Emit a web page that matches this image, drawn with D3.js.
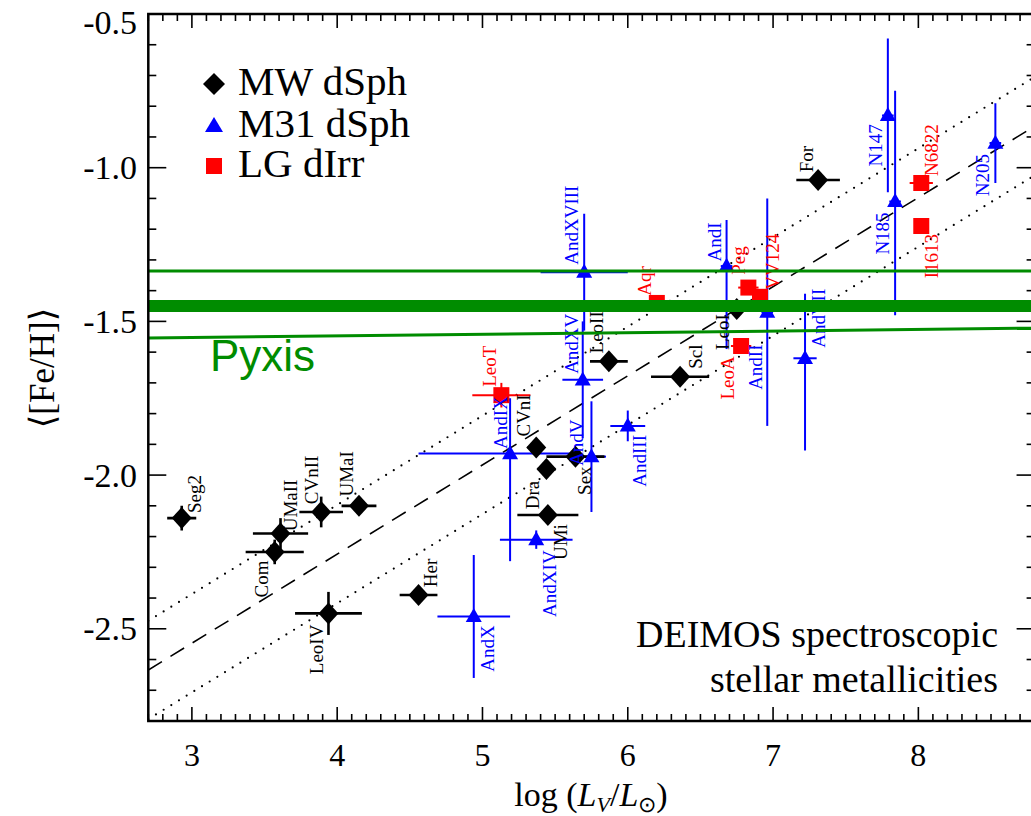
<!DOCTYPE html>
<html>
<head>
<meta charset="utf-8">
<script src="https://cdn.jsdelivr.net/npm/d3@7"></script>
<style>
  html, body { margin: 0; padding: 0; background: #fff; }
  svg { display: block; }
</style>
</head>
<body>
<svg id="chart" width="1031" height="816"></svg>
<script>
// ---- data ----
// Milky Way dSph
const mwNames   = ["Seg2", "UMaII", "Com", "CVnII", "UMaI", "LeoIV", "Her", "CVnI", "Dra", "UMi", "Sex", "LeoII", "Scl", "LeoI", "For"];
const mwLogL    = [2.93, 3.61, 3.57, 3.89, 4.15, 3.94, 4.56, 5.37, 5.44, 5.45, 5.64, 5.87, 6.36, 6.75, 7.31];
const mwFeH     = [-2.14, -2.19, -2.25, -2.12, -2.10, -2.45, -2.39, -1.91, -1.98, -2.13, -1.94, -1.63, -1.68, -1.46, -1.04];
const mwLogLErr = [0.10, 0.19, 0.20, 0.15, 0.12, 0.23, 0.13, 0.06, 0.06, 0.21, 0.20, 0.13, 0.20, 0.10, 0.15];
const mwFeHErr  = [0.04, 0.05, 0.04, 0.05, 0.02, 0.07, 0.02, 0.02, 0.02, 0.02, 0.02, 0.02, 0.01, 0.01, 0.01];

// M31 dSph (errors as [minus, plus])
const m31Names   = ["AndX", "AndXIV", "AndIX", "AndXVIII", "AndXV", "AndV", "AndIII", "AndI", "AndII", "AndVII", "N147", "N185", "N205"];
const m31LogL    = [4.94, 5.37, 5.19, 5.70, 5.69, 5.75, 6.00, 6.68, 6.96, 7.22, 7.79, 7.84, 8.53];
const m31FeH     = [-2.46, -2.21, -1.93, -1.34, -1.69, -1.94, -1.84, -1.32, -1.47, -1.62, -0.83, -1.11, -0.92];
const m31LogLErr = [[0.25, 0.25], [0.25, 0.25], [0.63, 0.42], [0.30, 0.30], [0.14, 0.14], [0.10, 0.10], [0.12, 0.12],
                    [0.04, 0.04], [0.04, 0.04], [0.08, 0.08], [0.04, 0.04], [0.04, 0.04], [0.04, 0.04]];
const m31FeHErr  = [[0.20, 0.20], [0.03, 0.03], [0.35, 0.18], [0.19, 0.19], [0.19, 0.19], [0.18, 0.18], [0.05, 0.05],
                    [0.27, 0.15], [0.37, 0.37], [0.30, 0.21], [0.25, 0.25], [0.37, 0.36], [0.13, 0.13]];

// Local Group dIrr
const dirrNames   = ["LeoT", "Aqr", "LeoA", "Peg", "VV124", "I1613", "N6822"];
const dirrLogL    = [5.13, 6.20, 6.78, 6.83, 6.91, 8.02, 8.02];
const dirrFeH     = [-1.74, -1.44, -1.58, -1.39, -1.42, -1.19, -1.05];
const dirrLogLErr = [0.20, 0.03, 0.07, 0.07, 0.03, 0.05, 0.08];
const dirrFeHErr  = [0.04, 0.01, 0.01, 0.01, 0.01, 0.01, 0.01];

// luminosity-metallicity relation and its rms band (end points at the axis limits)
const fitLogL  = [2.7, 8.8];
const fitMid   = [-2.634, -0.865];
const fitUpper = [-2.474, -0.705];
const fitLower = [-2.794, -1.025];

// Pyxis metallicity and its range
const pyxisLogL  = [2.7, 8.8];
const pyxisMean  = [-1.45, -1.45];
const pyxisHigh  = [-1.336, -1.336];
const pyxisLow   = [-1.554, -1.522];

const xTicks = [3, 4, 5, 6, 7, 8];
const yTicks = [-0.5, -1.0, -1.5, -2.0, -2.5];

// label offsets in px from the point (label centre), labels are vertical
const labelOff = {
  Seg2: [13, -24], UMaII: [10, -28], Com: [-13, 27], CVnII: [-10, -32], UMaI: [-12, -32], LeoIV: [-12, 36],
  Her: [12, -22], CVnI: [-13, -32], Dra: [-14, 26], UMi: [13, 27], Sex: [9, 24], LeoII: [-12, -29],
  Scl: [15, -20], LeoI: [-14, 23], For: [-12, -21],
  AndX: [14, 32], AndXIV: [13, 44], AndIX: [-10, -31], AndXVIII: [-13, -47], AndXV: [-11, -36], AndV: [-15, -14],
  AndIII: [12, 35], AndI: [-12, -24], AndII: [-12, 55], AndVII: [13, -40], N147: [-12, 30], N185: [-13, 32], N205: [-13, 32],
  LeoT: [-12, -29], Aqr: [-12, -22], LeoA: [-14, 32], Peg: [-10, -27], VV124: [13, -35], I1613: [10, 30], N6822: [10, -33]
};

// ---- layout ----
const SERIF = "'Liberation Serif', 'Times New Roman', Times, serif";
const svg = d3.select("#chart");
const plotL = 148.3, plotR = 1034.6, plotT = 14, plotB = 721;
const x = d3.scaleLinear().domain([2.7, 8.8]).range([plotL, plotR]);
const y = d3.scaleLinear().domain([-2.8, -0.5]).range([plotB, plotT]);
const GREEN = "#008c00";

svg.append("clipPath").attr("id", "plotclip")
  .append("rect").attr("x", plotL).attr("y", plotT).attr("width", plotR - plotL).attr("height", plotB - plotT);

const plot = svg.append("g").attr("clip-path", "url(#plotclip)");

// fit lines
function segment(xs, ys) {
  return d3.line().x(d => x(d[0])).y(d => y(d[1]))(xs.map((v, i) => [v, ys[i]]));
}
plot.append("path").attr("d", segment(fitLogL, fitMid))
  .attr("stroke", "#000").attr("stroke-width", 1.6).attr("fill", "none").attr("stroke-dasharray", "16,10");
[fitUpper, fitLower].forEach(f => {
  plot.append("path").attr("d", segment(fitLogL, f))
    .attr("stroke", "#000").attr("stroke-width", 2.2).attr("fill", "none")
    .attr("stroke-linecap", "round").attr("stroke-dasharray", "0,9");
});

// error bars
function errorBars(g, xs, ys, xe, ye, color, width) {
  xs.forEach((v, i) => {
    const ex = Array.isArray(xe[i]) ? xe[i] : [xe[i], xe[i]];
    const ey = Array.isArray(ye[i]) ? ye[i] : [ye[i], ye[i]];
    g.append("line").attr("x1", x(v - ex[0])).attr("x2", x(v + ex[1]))
      .attr("y1", y(ys[i])).attr("y2", y(ys[i])).attr("stroke", color).attr("stroke-width", width);
    g.append("line").attr("x1", x(v)).attr("x2", x(v))
      .attr("y1", y(ys[i] - ey[0])).attr("y2", y(ys[i] + ey[1])).attr("stroke", color).attr("stroke-width", width);
  });
}
errorBars(plot, m31LogL, m31FeH, m31LogLErr, m31FeHErr, "#0000ff", 2);
errorBars(plot, dirrLogL, dirrFeH, dirrLogLErr, dirrFeHErr, "#ff0000", 2);
errorBars(plot, mwLogL, mwFeH, mwLogLErr, mwFeHErr, "#000", 2.6);

// marker shapes
const diamond = (w, h) => `M0,${-h / 2}L${w / 2},0L0,${h / 2}L${-w / 2},0Z`;
const triangle = (w, h) => `M0,${-h * 0.6}L${w / 2},${h * 0.4}L${-w / 2},${h * 0.4}Z`;
const square = s => `M${-s / 2},${-s / 2}h${s}v${s}h${-s}Z`;

function markers(xs, ys, path, color) {
  plot.append("g").selectAll("path").data(xs).join("path")
    .attr("transform", (d, i) => `translate(${x(d)},${y(ys[i])})`)
    .attr("d", path).attr("fill", color);
}
markers(m31LogL, m31FeH, triangle(16, 14), "#0000ff");
markers(dirrLogL, dirrFeH, square(16), "#ff0000");
markers(mwLogL, mwFeH, diamond(20, 22), "#000");

// vertical labels
function labels(names, xs, ys, color) {
  plot.append("g").selectAll("text").data(names).join("text")
    .attr("transform", (d, i) => {
      const o = labelOff[d] || [0, 0];
      return `translate(${x(xs[i]) + o[0]},${y(ys[i]) + o[1]}) rotate(-90)`;
    })
    .attr("text-anchor", "middle").attr("dominant-baseline", "central")
    .attr("font-family", SERIF).attr("font-size", 19).attr("fill", color).text(d => d);
}
labels(mwNames, mwLogL, mwFeH, "#000");
labels(m31Names, m31LogL, m31FeH, "#0000ff");
labels(dirrNames, dirrLogL, dirrFeH, "#ff0000");

// Pyxis lines (drawn on top)
const pyx = svg.append("g");
pyx.append("path").attr("d", segment(pyxisLogL, pyxisMean)).attr("stroke", GREEN).attr("stroke-width", 12).attr("fill", "none");
[pyxisHigh, pyxisLow].forEach(p => {
  pyx.append("path").attr("d", segment(pyxisLogL, p)).attr("stroke", GREEN).attr("stroke-width", 3).attr("fill", "none");
});
svg.append("text").attr("x", 210).attr("y", 371)
  .attr("font-family", "'Liberation Sans', Arial, sans-serif").attr("font-size", 44)
  .attr("fill", GREEN).text("Pyxis");

// frame and ticks
svg.append("rect").attr("x", plotL).attr("y", plotT).attr("width", plotR - plotL).attr("height", plotB - plotT)
  .attr("fill", "none").attr("stroke", "#000").attr("stroke-width", 2.5);

const ticks = svg.append("g").attr("stroke", "#000").attr("stroke-width", 1.6);
d3.range(27, 89).map(v => v / 10).forEach(v => {
  const major = Math.abs(v - Math.round(v)) < 1e-6;
  const len = major ? 14 : 7;
  ticks.append("line").attr("x1", x(v)).attr("x2", x(v)).attr("y1", plotB).attr("y2", plotB - len);
  ticks.append("line").attr("x1", x(v)).attr("x2", x(v)).attr("y1", plotT).attr("y2", plotT + len);
});
d3.range(-28, -4).map(v => v / 10).forEach(v => {
  const major = Math.abs(v * 2 - Math.round(v * 2)) < 1e-6;
  const len = major ? 18 : 8;
  ticks.append("line").attr("x1", plotL).attr("x2", plotL + len).attr("y1", y(v)).attr("y2", y(v));
  ticks.append("line").attr("x1", plotR).attr("x2", plotR - len).attr("y1", y(v)).attr("y2", y(v));
});

// tick labels
svg.append("g").selectAll("text").data(xTicks).join("text")
  .attr("x", d => x(d)).attr("y", 766).attr("text-anchor", "middle")
  .attr("font-family", SERIF).attr("font-size", 32).text(d => d);
svg.append("g").selectAll("text").data(yTicks).join("text")
  .attr("x", 137).attr("y", d => Math.max(y(d), 22)).attr("text-anchor", "end").attr("dominant-baseline", "central")
  .attr("font-family", SERIF).attr("font-size", 34).text(d => d.toFixed(1));

// axis titles
const yt = svg.append("text").attr("transform", "translate(42,368) rotate(-90)")
  .attr("text-anchor", "middle").attr("dominant-baseline", "central")
  .attr("font-family", SERIF).attr("font-size", 35);
yt.append("tspan").attr("font-family", "'DejaVu Serif', serif").attr("font-weight", 200).text("\u27E8");
yt.append("tspan").text("[Fe/H]");
yt.append("tspan").attr("font-family", "'DejaVu Serif', serif").attr("font-weight", 200).text("\u27E9");

const xt = svg.append("text").attr("x", 591).attr("y", 806).attr("text-anchor", "middle")
  .attr("font-family", SERIF).attr("font-size", 34);
xt.append("tspan").text("log (");
xt.append("tspan").attr("font-style", "italic").text("L");
xt.append("tspan").attr("font-style", "italic").attr("font-size", 22).attr("dy", 6).text("V");
xt.append("tspan").attr("dy", -6).text("/");
xt.append("tspan").attr("font-style", "italic").text("L");
xt.append("tspan").attr("font-size", 22).attr("dy", 6).text("\u2299");
xt.append("tspan").attr("dy", -6).text(")");

// legend
const legend = svg.append("g");
const legendItems = [
  { label: "MW dSph", path: diamond(22, 22), color: "#000", yb: 95 },
  { label: "M31 dSph", path: triangle(18, 15), color: "#0000ff", yb: 137 },
  { label: "LG dIrr", path: square(16), color: "#ff0000", yb: 177 }
];
legendItems.forEach(it => {
  legend.append("path").attr("d", it.path).attr("fill", it.color)
    .attr("transform", `translate(214,${it.yb - 11})`);
  legend.append("text").attr("x", 238).attr("y", it.yb)
    .attr("font-family", SERIF).attr("font-size", 41).text(it.label);
});

// note
svg.append("text").attr("x", 998).attr("y", 647).attr("text-anchor", "end")
  .attr("font-family", SERIF).attr("font-size", 38).text("DEIMOS spectroscopic");
svg.append("text").attr("x", 998).attr("y", 692).attr("text-anchor", "end")
  .attr("font-family", SERIF).attr("font-size", 38).text("stellar metallicities");
</script>
</body>
</html>
